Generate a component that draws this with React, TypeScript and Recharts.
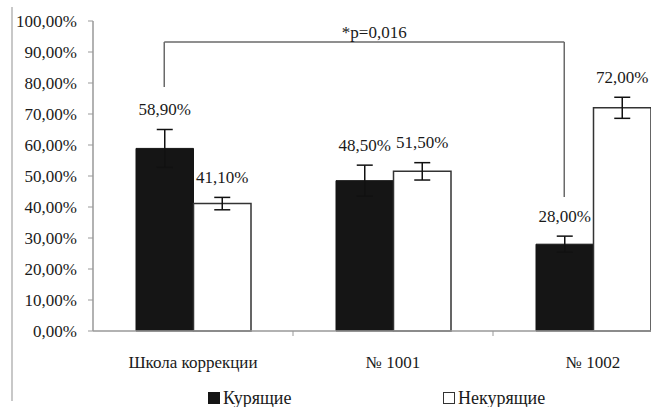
import React from 'react';
import {
  BarChart, Bar, XAxis, YAxis, ErrorBar, LabelList, ReferenceLine, Legend,
} from 'recharts';

const categories = ['Школа коррекции', '№ 1001', '№ 1002'];
const smokers = [58.9, 48.5, 28.0];
const nonSmokers = [41.1, 51.5, 72.0];
const smokersErr = [6.1, 5.0, 2.6];
const nonSmokersErr = [2.0, 2.8, 3.4];
const yTicks = [0, 10, 20, 30, 40, 50, 60, 70, 80, 90, 100];
const seriesNames = ['Курящие', 'Некурящие'];
const pText = '*p=0,016';
const bracketLevel = 93.2;
const bracketLeftEnd = 78.7;
const bracketRightEnd = 43.2;

const data = categories.map((c, i) => ({
  name: c,
  smokers: smokers[i],
  nonSmokers: nonSmokers[i],
  smokersErr: smokersErr[i],
  nonSmokersErr: nonSmokersErr[i],
}));

const FONT = 'Liberation Serif, Tinos, Times New Roman, serif';
const BAR = 57.5;
const fmt = (v: number) => v.toFixed(2).replace('.', ',') + '%';

const makeLabel = (errs: number[]) => (props: any) => {
  const vb = props.viewBox && props.viewBox.width !== undefined ? props.viewBox : props;
  const { x, y, width, height } = vb;
  const value = Number(props.value);
  const idx = props.index ?? 0;
  if (!value || !height) return null;
  const px = height / value;
  const top = y - errs[idx] * px;
  return (
    <text x={x + width / 2} y={top - 20} textAnchor="middle" dominantBaseline="central"
      style={{ fontFamily: FONT }} fontSize={17} fill="#1a1a1a">{fmt(value)}</text>
  );
};

const lineStyle = { stroke: '#6a6a6a', strokeWidth: 1.5 };

const HLine = (p: any) => (
  <g>
    <line x1={p.x1 - BAR / 2} x2={p.x2 - BAR / 2} y1={p.y1} y2={p.y2} {...lineStyle} />
    <text x={(p.x1 + p.x2) / 2 - BAR / 2 + 10} y={p.y1 - 10} textAnchor="middle" dominantBaseline="central"
      style={{ fontFamily: FONT }} fontSize={17} fill="#1a1a1a">{pText}</text>
  </g>
);
const VLine = (p: any) => (
  <line x1={p.x1 - BAR / 2} x2={p.x2 - BAR / 2} y1={p.y1} y2={p.y2} {...lineStyle} />
);
// tick marks at category boundaries, derived from the distance between first and last category centres
const EdgeTicks = (p: any) => {
  const band = (p.x2 - p.x1) / (categories.length - 1);
  const marks = [];
  for (let i = 0; i < categories.length; i++) {
    const xx = p.x1 + band * (i + 0.5);
    marks.push(<line key={i} x1={xx} x2={xx} y1={p.y1} y2={p.y1 + 5} stroke="#999" strokeWidth={1} />);
  }
  return <g>{marks}</g>;
};

const XTick = (props: any) => {
  const { x, y, payload } = props;
  return (
    <text x={x} y={y} dy="0.71em" textAnchor="middle" style={{ fontFamily: FONT }} fontSize={17} fill="#1a1a1a">
      {payload.value}
    </text>
  );
};

const YTick = (props: any) => {
  const { x, y, payload } = props;
  return (
    <text x={x} y={y} dy="0.355em" textAnchor="end" style={{ fontFamily: FONT }} fontSize={17} fill="#1a1a1a">
      {fmt(Number(payload.value))}
    </text>
  );
};

const LegendContent = () => (
  <div style={{ position: 'relative', width: 651, height: 18, fontFamily: FONT, fontSize: 18, lineHeight: '18px', color: '#1a1a1a' }}>
    <div style={{ position: 'absolute', left: 208, top: 0, display: 'flex', alignItems: 'center', height: 18 }}>
      <span style={{ display: 'inline-block', width: 10, height: 10, background: '#151515', border: '1px solid #151515', marginRight: 3 }} />
      <span>{seriesNames[0]}</span>
    </div>
    <div style={{ position: 'absolute', left: 443, top: 0, display: 'flex', alignItems: 'center', height: 18 }}>
      <span style={{ display: 'inline-block', width: 10, height: 10, background: '#fff', border: '1.5px solid #333', marginRight: 3 }} />
      <span>{seriesNames[1]}</span>
    </div>
  </div>
);

export default function App() {
  return (
    <div style={{ position: 'absolute', left: 0, top: 0, width: 651, height: 407, overflow: 'hidden', background: '#fff', fontFamily: FONT }}>
      <div style={{ position: 'absolute', left: 11, top: 7, width: 2, height: 394, background: '#c8c8c8' }} />
      <BarChart width={700} height={407} data={data} barGap={0} barSize={BAR}
        margin={{ top: 21, right: 7, left: 0, bottom: 46 }}>
        <XAxis dataKey="name" height={30} tickSize={0} tickMargin={25} tick={<XTick />}
          axisLine={{ stroke: '#999', strokeWidth: 1.5 }} tickLine={false} interval={0} />
        <YAxis width={93} domain={[0, 100]} ticks={yTicks} tickSize={5} tickMargin={11}
          axisLine={{ stroke: '#999', strokeWidth: 1.5 }} tickLine={{ stroke: '#999' }}
          tick={<YTick />} interval={0} />
        <Legend layout="horizontal" verticalAlign="middle" align="center" content={<LegendContent />}
          wrapperStyle={{ top: 389, left: 0, width: 651 }} />
        <Bar dataKey="smokers" name={seriesNames[0]} fill="#151515" stroke="#151515" isAnimationActive={false}>
          <ErrorBar dataKey="smokersErr" width={8} stroke="#111" strokeWidth={1.5} />
          <LabelList dataKey="smokers" content={makeLabel(smokersErr)} />
        </Bar>
        <Bar dataKey="nonSmokers" name={seriesNames[1]} fill="#ffffff" stroke="#333" strokeWidth={1.5} isAnimationActive={false}>
          <ErrorBar dataKey="nonSmokersErr" width={8} stroke="#111" strokeWidth={1.5} />
          <LabelList dataKey="nonSmokers" content={makeLabel(nonSmokersErr)} />
        </Bar>
        <ReferenceLine segment={[{ x: categories[0], y: 0 }, { x: categories[2], y: 0 }]} shape={EdgeTicks} ifOverflow="visible" />
        <ReferenceLine segment={[{ x: categories[0], y: bracketLevel }, { x: categories[2], y: bracketLevel }]} shape={HLine} ifOverflow="visible" />
        <ReferenceLine segment={[{ x: categories[0], y: bracketLevel }, { x: categories[0], y: bracketLeftEnd }]} shape={VLine} ifOverflow="visible" />
        <ReferenceLine segment={[{ x: categories[2], y: bracketLevel }, { x: categories[2], y: bracketRightEnd }]} shape={VLine} ifOverflow="visible" />
      </BarChart>
    </div>
  );
}
